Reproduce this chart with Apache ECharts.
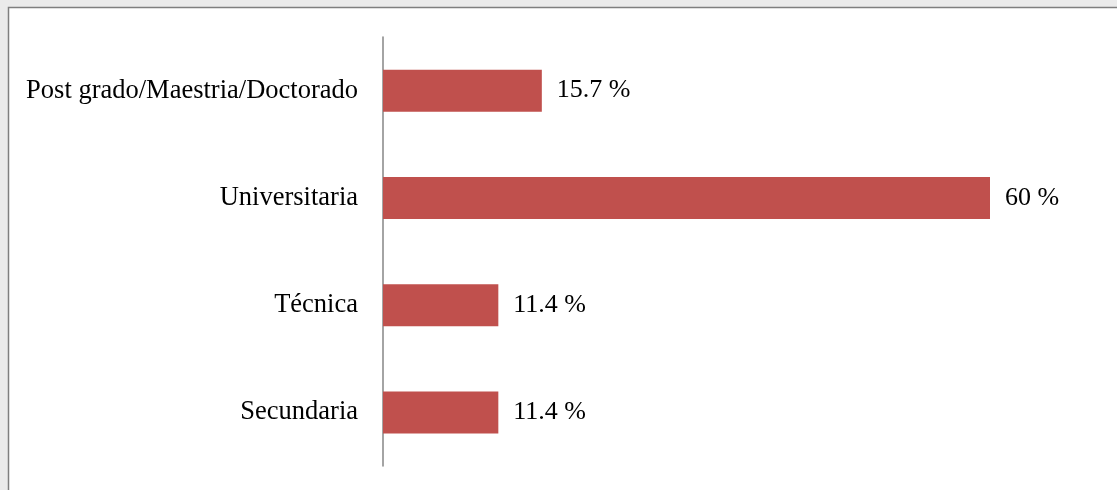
<!doctype html>
<html lang="es">
<head>
    <meta charset="UTF-8">
    <title>Nivel de estudios</title>
    <style>
        html, body { margin: 0; padding: 0; background: #ebebeb; }
        #main { width: 1117px; height: 490px; }
    </style>
</head>
<body>
    <div id="main"></div>
<script src="https://cdn.jsdelivr.net/npm/echarts@6/dist/echarts.min.js"></script>
<script type="text/javascript">
    // categorias, de abajo hacia arriba
    const categorias = ['Secundaria', 'Técnica', 'Universitaria', 'Post grado/Maestria/Doctorado']
    const porcentajes = [11.4, 11.4, 60, 15.7]

    const myChart = echarts.init(document.getElementById('main'))
    const option = {
        backgroundColor: '#ebebeb',
        animation: false,
        graphic: [
            {
                type: 'rect',
                z: -10,
                shape: { x: 8.5, y: 7.5, width: 1200, height: 600 },
                style: { fill: '#ffffff', stroke: '#7f7f7f', lineWidth: 1.5 }
            }
        ],
        grid: {
            left: 383,
            right: 127,
            top: 37,
            bottom: 24
        },
        xAxis: {
            type: 'value',
            min: 0,
            max: 60,
            show: false
        },
        yAxis: {
            type: 'category',
            data: categorias,
            axisLine: { show: true, lineStyle: { color: '#868686', width: 1.5 } },
            axisTick: { show: false },
            axisLabel: {
                margin: 25,
                color: '#000',
                fontFamily: 'Liberation Serif',
                fontSize: 26.5
            }
        },
        series: [
            {
                type: 'bar',
                data: porcentajes,
                barWidth: 42,
                itemStyle: { color: '#c0504d' },
                label: {
                    show: true,
                    position: 'right',
                    distance: 15,
                    color: '#000',
                    fontFamily: 'Liberation Serif',
                    fontSize: 26,
                    formatter: p => p.value + ' %'
                }
            }
        ]
    }
    myChart.setOption(option)
</script>
</body>
</html>
